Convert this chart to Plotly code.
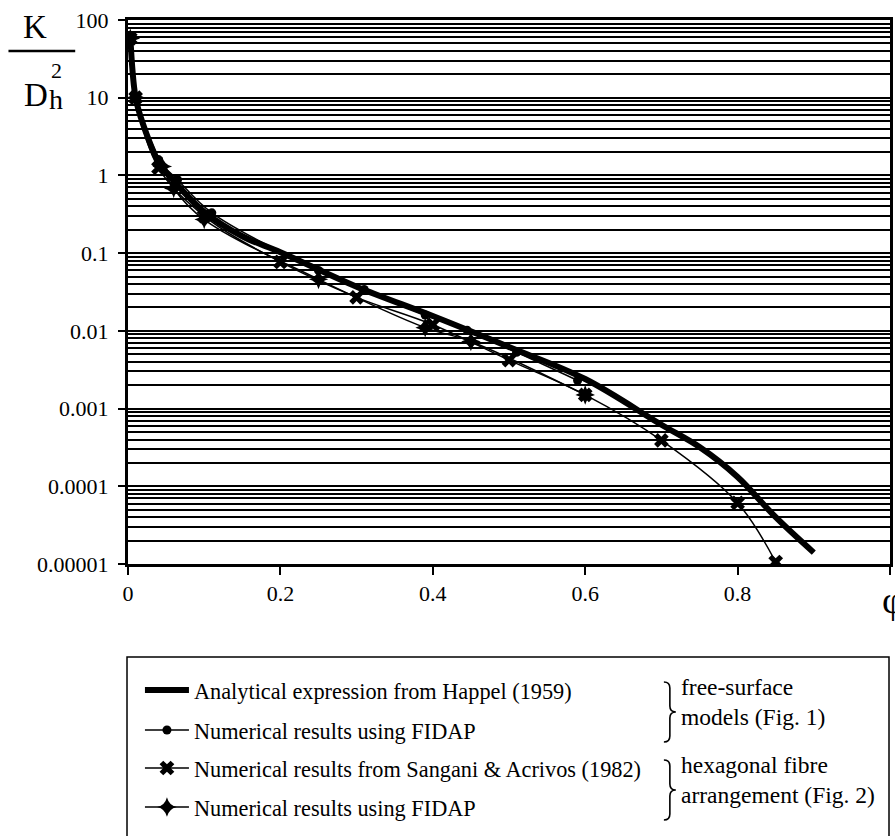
import plotly.graph_objects as go

# ---- data ----
happel_phi = [0.003, 0.01, 0.02, 0.04, 0.06, 0.1, 0.15, 0.2, 0.3, 0.4, 0.5, 0.6, 0.7, 0.75, 0.8, 0.85, 0.9]
happel_k = [62, 10, 4.5, 1.5, 0.85, 0.34, 0.165, 0.103, 0.037, 0.0155, 0.0062, 0.0024, 0.00062, 0.00032, 0.000132, 0.00004, 0.000014]

free_phi = [0.003, 0.01, 0.04, 0.065, 0.11, 0.25, 0.31, 0.39, 0.445, 0.51, 0.59]
free_k = [62, 10, 1.6, 0.88, 0.33, 0.06, 0.034, 0.016, 0.0102, 0.0053, 0.0023]

sang_phi = [0.003, 0.01, 0.04, 0.1, 0.2, 0.3, 0.4, 0.5, 0.6, 0.7, 0.8, 0.85]
sang_k = [58, 10, 1.25, 0.3, 0.077, 0.027, 0.012, 0.0042, 0.0015, 0.00039, 0.000061, 0.0000106]

hex_phi = [0.003, 0.01, 0.045, 0.06, 0.1, 0.25, 0.39, 0.45, 0.6]
hex_k = [58, 10, 1.3, 0.68, 0.27, 0.046, 0.011, 0.0073, 0.0015]

x_ticks = [0, 0.2, 0.4, 0.6, 0.8, 1]
x_ticktext = ["0", "0.2", "0.4", "0.6", "0.8", "1"]
y_ticks = [1e-5, 1e-4, 1e-3, 1e-2, 1e-1, 1, 10, 100]
y_ticktext = ["0.00001", "0.0001", "0.001", "0.01", "0.1", "1", "10", "100"]
y_minor = [m * 10.0 ** e for e in range(-5, 2) for m in range(2, 10)]

names = [
    "Analytical expression from Happel (1959)",
    "Numerical results using FIDAP",
    "Numerical results from Sangani & Acrivos (1982)",
    "Numerical results using FIDAP",
]

FONT = "Liberation Serif"
FS = 22
W, H = 895, 836
L, R, T, B = 128, 2, 20, 272
PH = H - T - B


def py(pix):  # pixel y -> paper y
    return (H - B - pix) / PH


def px(pix):  # pixel x -> paper x
    return (pix - L) / (W - L - R)


fig = go.Figure()
fig.add_trace(go.Scatter(x=happel_phi, y=happel_k, mode="lines", name=names[0], showlegend=True,
                         line=dict(color="black", width=6, shape="spline"), legend="legend"))
fig.add_trace(go.Scatter(x=free_phi, y=free_k, mode="lines+markers", name=names[1], showlegend=True,
                         line=dict(color="black", width=1.5, shape="spline"),
                         marker=dict(symbol="circle", size=9, color="black"), legend="legend2"))
fig.add_trace(go.Scatter(x=sang_phi, y=sang_k, mode="lines+markers", name=names[2], showlegend=True,
                         line=dict(color="black", width=1.5, shape="spline"),
                         marker=dict(symbol="x", size=13, color="black"), legend="legend3"))
fig.add_trace(go.Scatter(x=hex_phi, y=hex_k, mode="lines+markers", name=names[3], showlegend=True,
                         line=dict(color="black", width=1.5, shape="spline"),
                         marker=dict(symbol="star-diamond", size=14, color="black"), legend="legend4"))

leg_common = dict(x=px(140), xanchor="left", yanchor="middle", bgcolor="rgba(0,0,0,0)",
                  font=dict(family=FONT, size=22.3, color="black"), itemwidth=44)
legend_rows = [690, 730, 768, 807]

fig.update_layout(
    width=W, height=H,
    margin=dict(l=L, r=R, t=T, b=B),
    paper_bgcolor="white", plot_bgcolor="white",
    showlegend=True,
    font=dict(family=FONT, size=FS, color="black"),
    legend=dict(y=py(legend_rows[0]), **leg_common),
    legend2=dict(y=py(legend_rows[1]), **leg_common),
    legend3=dict(y=py(legend_rows[2]), **leg_common),
    legend4=dict(y=py(legend_rows[3]), **leg_common),
    xaxis=dict(range=[0, 1], tickvals=x_ticks, ticktext=x_ticktext, showgrid=False,
               zeroline=False, showline=True, linecolor="black", linewidth=3, mirror=True,
               ticks="outside", ticklen=8, tickwidth=2, tickcolor="black",
               tickfont=dict(family=FONT, size=FS)),
    yaxis=dict(type="log", range=[-5, 2], tickvals=y_ticks, ticktext=y_ticktext,
               showgrid=True, gridcolor="black", gridwidth=2,
               minor=dict(tickvals=y_minor, showgrid=True, gridcolor="black", gridwidth=1.5, ticks=""),
               zeroline=False, showline=True, linecolor="black", linewidth=3, mirror=True,
               ticks="outside", ticklen=7, tickwidth=2, tickcolor="black",
               ticklabelstandoff=5, tickfont=dict(family=FONT, size=FS)),
)

# legend box
fig.add_shape(type="rect", xref="paper", yref="paper", x0=px(127), x1=px(892), y0=py(860), y1=py(657),
              line=dict(color="black", width=1.5), fillcolor="rgba(0,0,0,0)")

# y-axis label: K / D_h^2
fig.add_annotation(text="K", xref="paper", yref="paper", x=px(35), y=py(27), showarrow=False,
                   font=dict(family=FONT, size=33), xanchor="center", yanchor="middle")
fig.add_shape(type="line", xref="paper", yref="paper", x0=px(8), x1=px(75), y0=py(51), y1=py(51),
              line=dict(color="black", width=2.5))
fig.add_annotation(text="D", xref="paper", yref="paper", x=px(36), y=py(95), showarrow=False,
                   font=dict(family=FONT, size=33), xanchor="center", yanchor="middle")
fig.add_annotation(text="2", xref="paper", yref="paper", x=px(56), y=py(70), showarrow=False,
                   font=dict(family=FONT, size=22), xanchor="center", yanchor="middle")
fig.add_annotation(text="h", xref="paper", yref="paper", x=px(56), y=py(99), showarrow=False,
                   font=dict(family=FONT, size=28), xanchor="center", yanchor="middle")

# x-axis label phi (cut at the right edge)
fig.add_annotation(text="φ", xref="paper", yref="paper", x=px(883), y=py(600), showarrow=False,
                   font=dict(family=FONT, size=38), xanchor="left", yanchor="middle")


def brace_path(xc, y0, y1):
    ym = (y0 + y1) / 2
    pts = [
        ("M", [(xc - 6, y0)]),
        ("Q", [(xc, y0), (xc, y0 + 6)]),
        ("L", [(xc, ym - 6)]),
        ("Q", [(xc, ym), (xc + 6, ym)]),
        ("Q", [(xc, ym), (xc, ym + 6)]),
        ("L", [(xc, y1 - 6)]),
        ("Q", [(xc, y1), (xc - 6, y1)]),
    ]
    s = ""
    for cmd, ps in pts:
        s += cmd + " " + " ".join(f"{px(a):.5f},{py(b):.5f}" for a, b in ps) + " "
    return s.strip()


# brackets and group labels
for top_row, lines in [(0, ["free-surface", "models (Fig. 1)"]),
                       (2, ["hexagonal fibre", "arrangement (Fig. 2)"])]:
    ya = legend_rows[top_row] - 3
    yb = ya + 30
    fig.add_shape(type="path", xref="paper", yref="paper", path=brace_path(672, ya - 5, yb + 25),
                  line=dict(color="black", width=1.6))
    fig.add_annotation(text=lines[0], xref="paper", yref="paper", x=px(681), y=py(ya), showarrow=False,
                       font=dict(family=FONT, size=23.5), xanchor="left", yanchor="middle")
    fig.add_annotation(text=lines[1], xref="paper", yref="paper", x=px(681), y=py(yb), showarrow=False,
                       font=dict(family=FONT, size=23.5), xanchor="left", yanchor="middle")

fig.write_html("out.html")
